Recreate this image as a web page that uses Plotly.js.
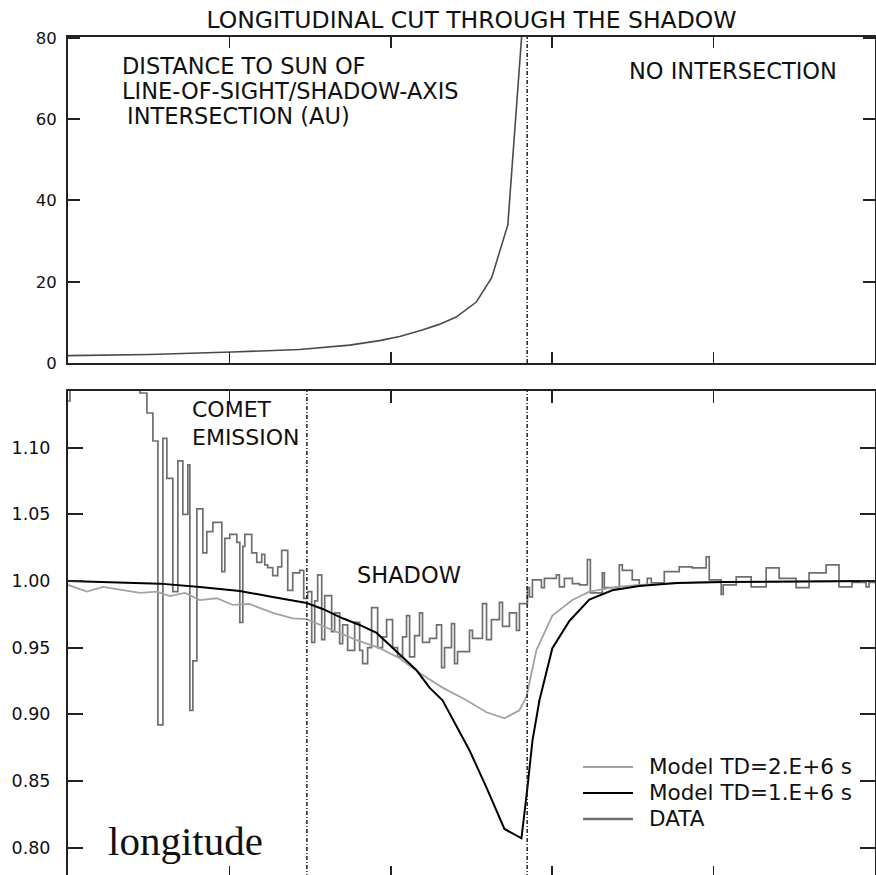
<!DOCTYPE html>
<html>
<head>
<meta charset="utf-8">
<script src="https://cdn.plot.ly/plotly-3.0.1.min.js"></script>
<style>
html, body { margin: 0; padding: 0; overflow: hidden; background: #fff; }
#chart { width: 876px; height: 880px; }
</style>
</head>
<body>
<div id="chart"></div>
<script>
// ---------- data (longitude in arbitrary units 0..100) ----------
// Top panel: distance to Sun of line-of-sight / shadow-axis intersection (AU)
const distLon = [0, 10.1, 20.3, 28.7, 34.9, 38.6, 41.1, 43.9, 46.0, 48.1, 50.6, 52.5, 54.5, 56.2, 56.6];
const distAU  = [1.8, 2.1, 2.7, 3.3, 4.4, 5.5, 6.5, 8.1, 9.5, 11.3, 15.0, 21.0, 34.0, 80.0, 100.0];

// Bottom panel: Model TD=1.E+6 s
const td1Lon = [0, 11.39, 16.34, 21.29, 25.37, 29.58, 31.56, 34.03, 36.14, 38.24, 39.85, 41.09, 43.19, 44.80, 46.41, 49.75, 51.86, 54.08, 56.19, 56.93, 57.55, 58.42, 60.02, 62.13, 64.60, 67.45, 70.79, 75.37, 81.06, 100];
const td1Val = [1.000, 0.998, 0.9955, 0.9925, 0.988, 0.9835, 0.979, 0.972, 0.967, 0.961, 0.952, 0.945, 0.933, 0.920, 0.9105, 0.873, 0.845, 0.814, 0.807, 0.845, 0.880, 0.9105, 0.9496, 0.970, 0.986, 0.993, 0.9962, 0.9985, 0.9993, 1.000];

// Bottom panel: Model TD=2.E+6 s
const td2Lon = [0, 2.35, 4.33, 7.30, 8.91, 11.01, 12.62, 14.48, 16.34, 18.44, 20.42, 22.52, 25.37, 27.85, 29.58, 32.80, 35.77, 38.61, 41.09, 43.56, 46.41, 49.38, 51.86, 54.08, 55.94, 56.81, 58.04, 60.02, 62.50, 64.60, 67.94, 70.79, 78.22, 100];
const td2Val = [0.997, 0.992, 0.9955, 0.9925, 0.991, 0.992, 0.9887, 0.991, 0.9857, 0.987, 0.982, 0.9827, 0.976, 0.972, 0.9714, 0.963, 0.9556, 0.9496, 0.942, 0.931, 0.920, 0.9105, 0.9015, 0.897, 0.903, 0.913, 0.948, 0.974, 0.9857, 0.992, 0.9955, 0.997, 0.999, 1.000];

// Bottom panel: DATA (binned, drawn as steps)
const dataLon = [0, 0.25, 8.91, 9.78, 10.52, 11.14, 11.76, 12.25, 12.99, 13.61, 14.23, 14.85, 15.10, 15.47, 15.97, 16.71, 17.20, 17.95, 19.06, 19.43, 20.05, 20.92, 21.29, 21.66, 21.91, 22.77, 23.39, 24.01, 24.38, 24.75, 25.37, 25.99, 26.48, 27.23, 27.85, 28.71, 29.21, 29.70, 30.20, 30.57, 30.94, 31.44, 31.81, 32.67, 33.04, 33.66, 34.03, 34.65, 35.52, 36.14, 36.51, 37.13, 37.62, 38.37, 38.98, 39.48, 40.22, 40.84, 41.46, 41.95, 42.33, 42.95, 43.56, 43.93, 44.80, 45.67, 46.29, 46.66, 47.52, 47.90, 48.27, 49.75, 50.12, 51.36, 51.86, 52.47, 53.46, 53.84, 54.70, 55.57, 55.94, 56.93, 57.18, 57.55, 58.66, 59.03, 60.52, 60.89, 61.51, 62.50, 63.37, 64.36, 64.73, 66.21, 66.46, 68.32, 68.69, 69.92, 70.79, 71.78, 72.28, 73.89, 75.74, 77.35, 79.08, 79.46, 80.94, 81.19, 82.80, 84.65, 86.51, 88.12, 90.22, 91.83, 93.94, 95.54, 97.15, 98.89, 99.26, 100];
const dataVal = [1.135, 1.25, 1.141, 1.126, 1.105, 0.892, 1.107, 1.077, 0.992, 1.090, 1.050, 1.087, 0.903, 0.940, 1.054, 1.021, 1.037, 1.044, 1.007, 1.032, 1.035, 1.029, 0.969, 1.026, 1.035, 1.021, 1.014, 1.020, 1.012, 1.010, 1.004, 1.0105, 1.023, 0.993, 1.006, 1.008, 0.987, 0.992, 0.954, 0.985, 1.0045, 0.956, 0.989, 0.962, 0.976, 0.953, 0.967, 0.948, 0.969, 0.948, 0.938, 0.950, 0.980, 0.950, 0.958, 0.971, 0.950, 0.943, 0.958, 0.974, 0.943, 0.959, 0.976, 0.954, 0.957, 0.967, 0.935, 0.950, 0.968, 0.938, 0.947, 0.963, 0.957, 0.983, 0.956, 0.971, 0.984, 0.966, 0.976, 0.963, 0.983, 0.995, 0.988, 1.0008, 0.995, 1.002, 1.0045, 0.9955, 1.002, 0.998, 0.997, 1.016, 0.991, 1.006, 0.995, 1.012, 1.008, 1.0008, 0.997, 1.002, 0.9985, 1.007, 1.0105, 1.0098, 1.018, 1.0008, 0.990, 0.997, 1.003, 0.9955, 1.0098, 1.002, 0.995, 1.006, 1.012, 0.9955, 0.999, 0.9955, 0.999, 0.999];

// Region boundaries (longitude)
const cometShadowEdge = 29.6;
const shadowEdge = 56.9;

// Axis ticks
const lonTicks = [0, 20, 40, 60, 80, 100];
const distTicks = [0, 20, 40, 60, 80];
const ratioTicks = [0.80, 0.85, 0.90, 0.95, 1.00, 1.05, 1.10];
const ratioTickText = ratioTicks.map(v => v.toFixed(2));

// Legend entries
const legendNames = ['Model TD=2.E+6 s', 'Model TD=1.E+6 s', 'DATA'];
const legendColors = ['#a3a3a3', '#000000', '#6f6f6f'];
const legendWidths = [2, 2, 2.5];

// ---------- chart ----------
const FONT = 'DejaVu Sans, Arial, sans-serif';

const traces = [
  { x: distLon, y: distAU, xaxis: 'x', yaxis: 'y', mode: 'lines', line: { color: '#4a4a4a', width: 1.6 }, showlegend: false, hoverinfo: 'skip' },
  { x: dataLon, y: dataVal, xaxis: 'x2', yaxis: 'y2', mode: 'lines', line: { color: legendColors[2], width: 1.7, shape: 'hv' }, name: legendNames[2], showlegend: false },
  { x: td2Lon, y: td2Val, xaxis: 'x2', yaxis: 'y2', mode: 'lines', line: { color: legendColors[0], width: 1.8 }, name: legendNames[0], showlegend: false },
  { x: td1Lon, y: td1Val, xaxis: 'x2', yaxis: 'y2', mode: 'lines', line: { color: legendColors[1], width: 2 }, name: legendNames[1], showlegend: false }
];

const axisCommonX = {
  range: [0, 100], tickmode: 'array', tickvals: lonTicks, showticklabels: false,
  ticks: 'inside', ticklen: 11, tickwidth: 1.5, tickcolor: '#222',
  showline: true, mirror: 'ticks', linecolor: '#222', linewidth: 2,
  showgrid: false, zeroline: false, fixedrange: true
};

const layout = {
  width: 876, height: 880,
  margin: { l: 68, r: 1, t: 37, b: 2 },
  paper_bgcolor: '#ffffff', plot_bgcolor: '#ffffff',
  font: { family: FONT, color: '#111', size: 17 },
  showlegend: false,
  title: {
    text: 'LONGITUDINAL CUT THROUGH THE SHADOW',
    font: { family: FONT, size: 23.5, color: '#111' },
    x: 0.5, xref: 'paper', xanchor: 'center',
    y: 1 - 20 / 880, yref: 'container', yanchor: 'middle'
  },
  xaxis: Object.assign({}, axisCommonX, { anchor: 'y', domain: [0, 1] }),
  xaxis2: Object.assign({}, axisCommonX, { anchor: 'y2', domain: [0, 1], ticklen: 12 }),
  yaxis: {
    domain: [0.6124, 1], range: [0, 80.25], anchor: 'x',
    tickmode: 'array', tickvals: distTicks, ticktext: distTicks.map(String),
    ticks: 'inside', ticklen: 12, tickwidth: 2, tickcolor: '#222',
    ticklabelstandoff: 6,
    showline: true, mirror: 'ticks', linecolor: '#222', linewidth: 2,
    showgrid: false, zeroline: false, fixedrange: true,
    tickfont: { family: FONT, size: 16.5, color: '#111' }
  },
  yaxis2: {
    domain: [0, 0.5791], range: [0.7772, 1.1425], anchor: 'x2',
    tickmode: 'array', tickvals: ratioTicks, ticktext: ratioTickText,
    ticks: 'inside', ticklen: 15, tickwidth: 2, tickcolor: '#222',
    ticklabelstandoff: 12,
    showline: true, mirror: 'ticks', linecolor: '#222', linewidth: 2,
    showgrid: false, zeroline: false, fixedrange: true,
    tickfont: { family: FONT, size: 17.5, color: '#111' }
  },
  shapes: [
    { type: 'line', xref: 'x', yref: 'y domain', x0: shadowEdge, x1: shadowEdge, y0: 0, y1: 1, line: { color: '#222', width: 1.5, dash: '4px,2px,1px,2px' } },
    { type: 'line', xref: 'x2', yref: 'y2 domain', x0: cometShadowEdge, x1: cometShadowEdge, y0: 0, y1: 1, line: { color: '#222', width: 1.5, dash: '4px,2px,1px,2px' } },
    { type: 'line', xref: 'x2', yref: 'y2 domain', x0: shadowEdge, x1: shadowEdge, y0: 0, y1: 1, line: { color: '#222', width: 1.5, dash: '4px,2px,1px,2px' } }
  ],
  annotations: []
};

// Text labels (paper coordinates)
const labels = [
  { text: 'DISTANCE TO SUN OF', x: 0.0644, y: 0.9655, s: 22.5 },
  { text: 'LINE-OF-SIGHT/SHADOW-AXIS', x: 0.0644, y: 0.9358, s: 22.5 },
  { text: 'INTERSECTION (AU)', x: 0.0706, y: 0.9061, s: 22.5 },
  { text: 'NO INTERSECTION', x: 0.6927, y: 0.9596, s: 22.5 },
  { text: 'COMET', x: 0.1512, y: 0.5565, s: 22 },
  { text: 'EMISSION', x: 0.1512, y: 0.5232, s: 22 },
  { text: 'SHADOW', x: 0.3556, y: 0.3603, s: 22.5 }
];
labels.forEach(l => layout.annotations.push({
  text: l.text, xref: 'paper', yref: 'paper', x: l.x, y: l.y,
  xanchor: 'left', yanchor: 'middle', showarrow: false,
  font: { family: FONT, size: l.s, color: '#111' }
}));
layout.annotations.push({
  text: 'longitude', xref: 'paper', yref: 'paper', x: 0.0471, y: 0.044,
  xanchor: 'left', yanchor: 'middle', showarrow: false,
  font: { family: 'Liberation Serif, Times New Roman, serif', size: 41, color: '#111' }
});

// Legend (drawn manually to match sample length)
const legY = [0.1320, 0.1011, 0.0702];
legendNames.forEach((name, i) => {
  layout.shapes.push({ type: 'line', xref: 'paper', yref: 'paper', x0: 0.6382, x1: 0.7001, y0: legY[i], y1: legY[i], line: { color: legendColors[i], width: legendWidths[i] } });
  layout.annotations.push({ text: name, xref: 'paper', yref: 'paper', x: 0.7175, y: legY[i], xanchor: 'left', yanchor: 'middle', showarrow: false, font: { family: FONT, size: 21.5, color: '#111' } });
});

Plotly.newPlot('chart', traces, layout, { displayModeBar: false, staticPlot: true });
</script>
</body>
</html>
